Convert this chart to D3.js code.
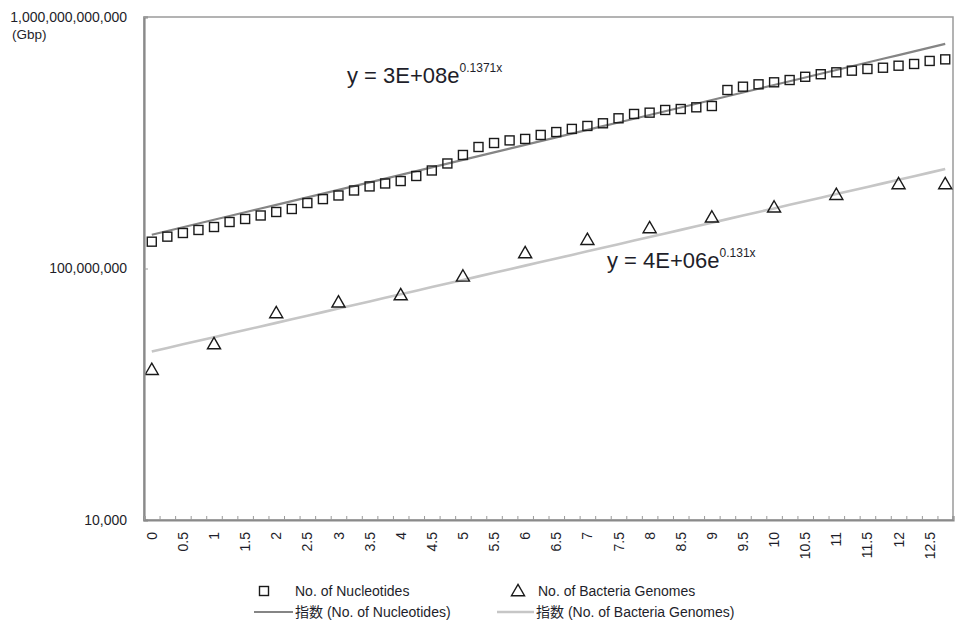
<!DOCTYPE html>
<html>
<head>
<meta charset="utf-8">
<script src="https://cdn.jsdelivr.net/npm/d3@7"></script>
<style>
  html, body { margin: 0; padding: 0; background: #fff; }
  svg text { font-family: "Liberation Sans", Arial, "Noto Sans CJK JP", sans-serif; fill: #1e1e2a; }
</style>
</head>
<body>
<svg id="chart" width="961" height="630"></svg>
<script>
// ---- data ----
// quarterly positions (x in years, step 0.25)
const nucleotideX = [0,0.25,0.5,0.75,1,1.25,1.5,1.75,2,2.25,2.5,2.75,3,3.25,3.5,3.75,4,4.25,4.5,4.75,5,5.25,5.5,5.75,6,6.25,6.5,6.75,7,7.25,7.5,7.75,8,8.25,8.5,8.75,9,9.25,9.5,9.75,10,10.25,10.5,10.75,11,11.25,11.5,11.75,12,12.25,12.5,12.75];
const nucleotides = [2.67e8,3.21e8,3.67e8,4.10e8,4.57e8,5.49e8,6.13e8,6.97e8,7.92e8,8.84e8,
  1.10e9,1.27e9,1.45e9,1.74e9,2.02e9,2.25e9,2.46e9,2.96e9,3.62e9,4.68e9,
  6.39e9,8.56e9,9.91e9,1.09e10,1.15e10,1.33e10,1.48e10,1.66e10,1.85e10,2.04e10,
  2.45e10,2.87e10,3.01e10,3.32e10,3.44e10,3.66e10,3.84e10,6.90e10,7.79e10,8.50e10,
  9.15e10,9.95e10,1.12e11,1.23e11,1.32e11,1.40e11,1.49e11,1.56e11,1.68e11,1.79e11,
  2.00e11,2.12e11];
const genomeX = [0,1,2,3,4,5,6,7,8,9,10,11,12,12.75];
const genomes = [2.37e6,6.07e6,1.89e7,2.80e7,3.65e7,7.24e7,1.70e8,2.77e8,4.25e8,6.29e8,9.07e8,1.44e9,2.13e9,2.13e9];

// exponential trend lines y = a * e^(b*n), n = quarter index (1..52)
const trendNames = ["指数 (No. of Nucleotides)", "指数 (No. of Bacteria Genomes)"];
const trendA = [3e8, 4.2e6];
const trendB = [0.1371, 0.131];
const trendLabelMain = ["y = 3E+08e", "y = 4E+06e"];
const trendLabelSup = ["0.1371x", "0.131x"];

const xTickLabels = ["0","0.5","1","1.5","2","2.5","3","3.5","4","4.5","5","5.5","6","6.5","7","7.5","8","8.5","9","9.5","10","10.5","11","11.5","12","12.5"];
const yTickValues = [1e4, 1e8, 1e12];
const yTickLabels = ["10,000", "100,000,000", "1,000,000,000,000"];
const seriesNames = ["No. of Nucleotides", "No. of Bacteria Genomes"];

// ---- layout ----
const svg = d3.select("#chart");
const L = 144, R = 953, T = 17, B = 520;
const x = d3.scaleLinear().domain([-0.125, 12.875]).range([L, R]);
const y = d3.scaleLog().domain([1e4, 1e12]).range([B, T]);

const trendColors = ["#858585", "#c6c6c6"];

// plot frame
svg.append("rect").attr("x", L).attr("y", T).attr("width", R - L).attr("height", B - T)
  .attr("fill", "none").attr("stroke", "#9a9a9a").attr("stroke-width", 1.5);

// trend lines
const qIdx = d3.range(nucleotideX.length);
const line = d3.line().x(d => x(d[0])).y(d => y(d[1]));
[0, 1].forEach(s => {
  const pts = qIdx.map(i => [nucleotideX[i], trendA[s] * Math.exp(trendB[s] * (i + 1))]);
  svg.append("path").attr("d", line(pts)).attr("fill", "none")
    .attr("stroke", trendColors[s]).attr("stroke-width", s === 0 ? 2.2 : 2.6);
});

// square markers
const sq = 9;
svg.append("g").selectAll("rect").data(nucleotides).join("rect")
  .attr("x", (d, i) => x(nucleotideX[i]) - sq / 2)
  .attr("y", d => y(d) - sq / 2)
  .attr("width", sq).attr("height", sq)
  .attr("fill", "none").attr("stroke", "#1a1a1a").attr("stroke-width", 1.4);

// triangle markers
const tri = d3.symbol().type(d3.symbolTriangle).size(74);
svg.append("g").selectAll("path").data(genomes).join("path")
  .attr("d", tri)
  .attr("transform", (d, i) => `translate(${x(genomeX[i])},${y(d)})`)
  .attr("fill", "none").attr("stroke", "#1a1a1a").attr("stroke-width", 1.4);

// axes
const yAxis = d3.axisLeft(y).tickValues(yTickValues).tickSize(-4).tickPadding(17)
  .tickFormat((d, i) => yTickLabels[i]);
const gy = svg.append("g").attr("transform", `translate(${L},0)`).call(yAxis);
gy.select(".domain").attr("stroke", "#8a8a8a").attr("stroke-width", 2.2);
gy.selectAll(".tick line").attr("stroke", "#9a9a9a");
gy.selectAll(".tick text").style("font-size", "14px").attr("fill", "#1e1e2a");

const bounds = d3.range(53).map(i => -0.125 + i * 0.25);
const xAxis = d3.axisBottom(x).tickValues(bounds).tickSize(-4).tickFormat("");
const gx = svg.append("g").attr("transform", `translate(0,${B})`).call(xAxis);
gx.select(".domain").attr("stroke", "#8a8a8a").attr("stroke-width", 2.2);
gx.selectAll(".tick line").attr("stroke", "#9a9a9a");

svg.append("g").selectAll("text").data(xTickLabels).join("text")
  .attr("transform", d => `translate(${x(+d)},${B + 12}) rotate(-90)`)
  .attr("text-anchor", "end").attr("dy", "0.36em")
  .style("font-size", "14px").text(d => d);

// unit
svg.append("text").attr("x", 12).attr("y", 39).style("font-size", "13.5px").text("(Gbp)");

// equations
const eqPos = [[347, 83], [607, 268]];
[0, 1].forEach(s => {
  const t = svg.append("text").attr("x", eqPos[s][0]).attr("y", eqPos[s][1]).style("font-size", "22px");
  t.append("tspan").text(trendLabelMain[s]);
  t.append("tspan").attr("dy", -11).style("font-size", "12px").text(trendLabelSup[s]);
});

// legend
const lg = svg.append("g");
lg.append("rect").attr("x", 264 - 4.5).attr("y", 591 - 4.5).attr("width", 9).attr("height", 9)
  .attr("fill", "none").attr("stroke", "#1a1a1a").attr("stroke-width", 1.4);
lg.append("text").attr("x", 295).attr("y", 591).attr("dy", "0.36em").style("font-size", "14px").text(seriesNames[0]);
lg.append("path").attr("d", tri).attr("transform", "translate(518,592)")
  .attr("fill", "none").attr("stroke", "#1a1a1a").attr("stroke-width", 1.4);
lg.append("text").attr("x", 538).attr("y", 591).attr("dy", "0.36em").style("font-size", "14px").text(seriesNames[1]);
lg.append("line").attr("x1", 254).attr("x2", 293).attr("y1", 612).attr("y2", 612)
  .attr("stroke", trendColors[0]).attr("stroke-width", 2.2);
lg.append("text").attr("x", 295).attr("y", 612).attr("dy", "0.36em").style("font-size", "14px").text(trendNames[0]);
lg.append("line").attr("x1", 497).attr("x2", 534).attr("y1", 612).attr("y2", 612)
  .attr("stroke", trendColors[1]).attr("stroke-width", 2.6);
lg.append("text").attr("x", 536).attr("y", 612).attr("dy", "0.36em").style("font-size", "14px").text(trendNames[1]);
</script>
</body>
</html>
